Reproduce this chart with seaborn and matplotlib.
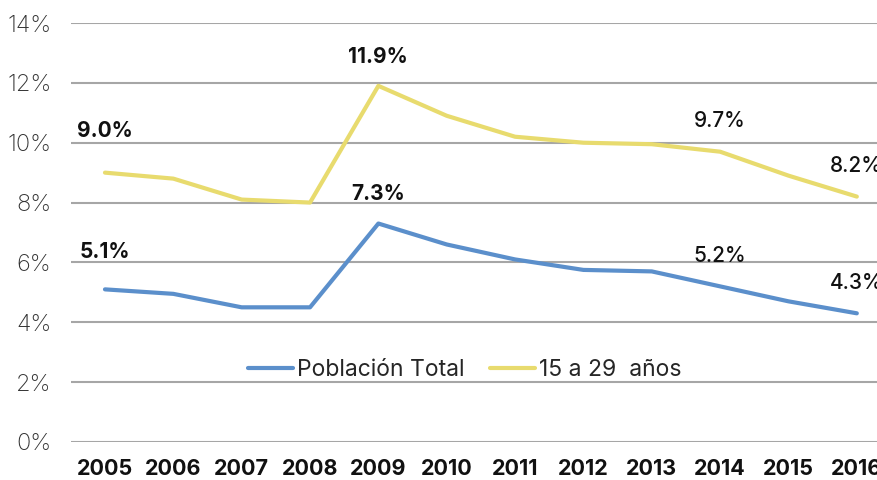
import numpy as np
import pandas as pd
import matplotlib
matplotlib.use("Agg")
import matplotlib.pyplot as plt
import seaborn as sns

# data
years = [2005, 2006, 2007, 2008, 2009, 2010, 2011, 2012, 2013, 2014, 2015, 2016]
poblacion_total = [5.1, 4.95, 4.5, 4.5, 7.3, 6.6, 6.1, 5.75, 5.7, 5.2, 4.7, 4.3]
jovenes_15_29 = [9.0, 8.8, 8.1, 8.0, 11.9, 10.9, 10.2, 10.0, 9.95, 9.7, 8.9, 8.2]
series_names = ["Población Total", "15 a 29  años"]
labelled_years = [2005, 2009, 2014, 2016]
bold_years = [2005, 2009]
y_ticks = [0, 2, 4, 6, 8, 10, 12, 14]

colors = ["#5B8FCB", "#E8DB6E"]

sns.set_theme(style="white")
plt.rcParams["font.family"] = ["Inter", "DejaVu Sans"]

df = pd.DataFrame({
    "year": years * 2,
    "value": poblacion_total + jovenes_15_29,
    "serie": [series_names[0]] * len(years) + [series_names[1]] * len(years),
})

W, H = 877, 480
fig = plt.figure(figsize=(W / 100, H / 100), dpi=100)
ax = fig.add_axes([70.8 / W, 38 / H, 820.2 / W, 419 / H])

sns.lineplot(data=df, x="year", y="value", hue="serie", palette=colors,
             linewidth=3, ax=ax, sort=False)

ax.set_xlim(years[0] - 0.5, years[-1] + 0.5)
ax.set_ylim(0, 14)
ax.set_yticks(y_ticks)
ax.set_yticklabels([f"{t}%" for t in y_ticks], fontsize=17, fontweight="light", color="#333333")
ax.set_xticks(years)
ax.set_xticklabels([str(y) for y in years], fontsize=15.5, fontweight="bold", color="#111111")
ax.tick_params(axis="y", length=0, pad=14)
ax.tick_params(axis="x", length=0, pad=12)
ax.set_xlabel("")
ax.set_ylabel("")
for s in ax.spines.values():
    s.set_visible(False)
ax.yaxis.grid(True, color="#A6A6A6", linewidth=1.5)
ax.set_axisbelow(True)

# point labels
for vals in (poblacion_total, jovenes_15_29):
    for yr in labelled_years:
        v = vals[years.index(yr)]
        if yr == 2005:
            dy = 30 if vals is jovenes_15_29 else 27
        elif yr == 2009:
            dy = 21
        else:
            dy = 22
        ax.annotate(f"{v:.1f}%", (yr, v), xytext=(0, dy), textcoords="offset points",
                    ha="center", va="center", fontsize=15,
                    fontweight="bold" if yr in bold_years else "medium", color="#111111")

leg = ax.legend(loc="center", bbox_to_anchor=(0.48, 0.172), ncol=2, frameon=False,
                fontsize=16.5, handlelength=2.0, handletextpad=0.15, columnspacing=1.1)
for line in leg.get_lines():
    line.set_linewidth(3)

fig.savefig("out.png", dpi=100)
